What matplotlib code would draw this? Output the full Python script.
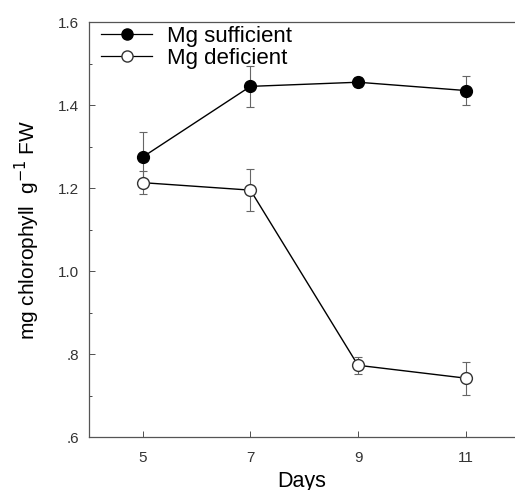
import matplotlib
matplotlib.use("Agg")
import matplotlib.pyplot as plt
from matplotlib.ticker import FixedLocator, MultipleLocator
from matplotlib.lines import Line2D

days = [5, 7, 9, 11]
mg_sufficient = [1.275, 1.445, 1.455, 1.435]
mg_sufficient_err = [0.06, 0.05, 0.012, 0.035]
mg_deficient = [1.213, 1.195, 0.773, 0.742]
mg_deficient_err = [0.027, 0.05, 0.02, 0.04]
ytick_vals = [0.6, 0.8, 1.0, 1.2, 1.4, 1.6]
ytick_labels = [".6", ".8", "1.0", "1.2", "1.4", "1.6"]

plt.rcParams['font.family'] = ['Liberation Sans', 'DejaVu Sans']

fig = plt.figure(figsize=(5.15, 4.9), dpi=100)
ax = fig.add_axes([0.173, 0.108, 0.825, 0.847])

ax.errorbar(days, mg_sufficient, yerr=mg_sufficient_err, color='black', lw=1.0,
            marker='o', ms=8.5, mfc='black', mec='black', ecolor='#666666',
            elinewidth=0.8, capsize=3, capthick=0.8, zorder=3)
ax.errorbar(days, mg_deficient, yerr=mg_deficient_err, color='black', lw=1.0,
            marker='o', ms=8.5, mfc='white', mec='#333333', ecolor='#666666',
            elinewidth=0.8, capsize=3, capthick=0.8, zorder=3)

ax.set_xlim(4.0, 11.9)
ax.set_ylim(0.6, 1.6)
ax.set_xticks(days)
ax.set_xticklabels([str(d) for d in days])
ax.yaxis.set_major_locator(FixedLocator(ytick_vals))
ax.set_yticklabels(ytick_labels)
ax.yaxis.set_minor_locator(MultipleLocator(0.1))
ax.tick_params(direction='in', length=4, width=0.6, labelsize=11, colors='#333333')
ax.tick_params(axis='y', pad=7)
ax.tick_params(axis='x', pad=10)
ax.tick_params(which='minor', direction='in', length=2, width=0.5)

for s in ['left', 'bottom', 'top']:
    ax.spines[s].set_color('#555555')
    ax.spines[s].set_linewidth(0.9)
ax.spines['right'].set_visible(False)

ax.set_xlabel('Days', fontsize=15.5, labelpad=4)
ax.set_ylabel('mg chlorophyll  g$^{-1}$ FW', fontsize=15, labelpad=12)

handles = [
    Line2D([], [], color='black', lw=0.9, marker='o', ms=8, mfc='black', mec='black'),
    Line2D([], [], color='black', lw=0.9, marker='o', ms=8, mfc='white', mec='#333333'),
]
ax.legend(handles, ['Mg sufficient', 'Mg deficient'], loc='upper left', frameon=False,
          fontsize=16, handlelength=2.3, handletextpad=0.65, labelspacing=0.05,
          borderaxespad=0.15, bbox_to_anchor=(0.0, 1.02))

fig.savefig('out.png', dpi=100)
